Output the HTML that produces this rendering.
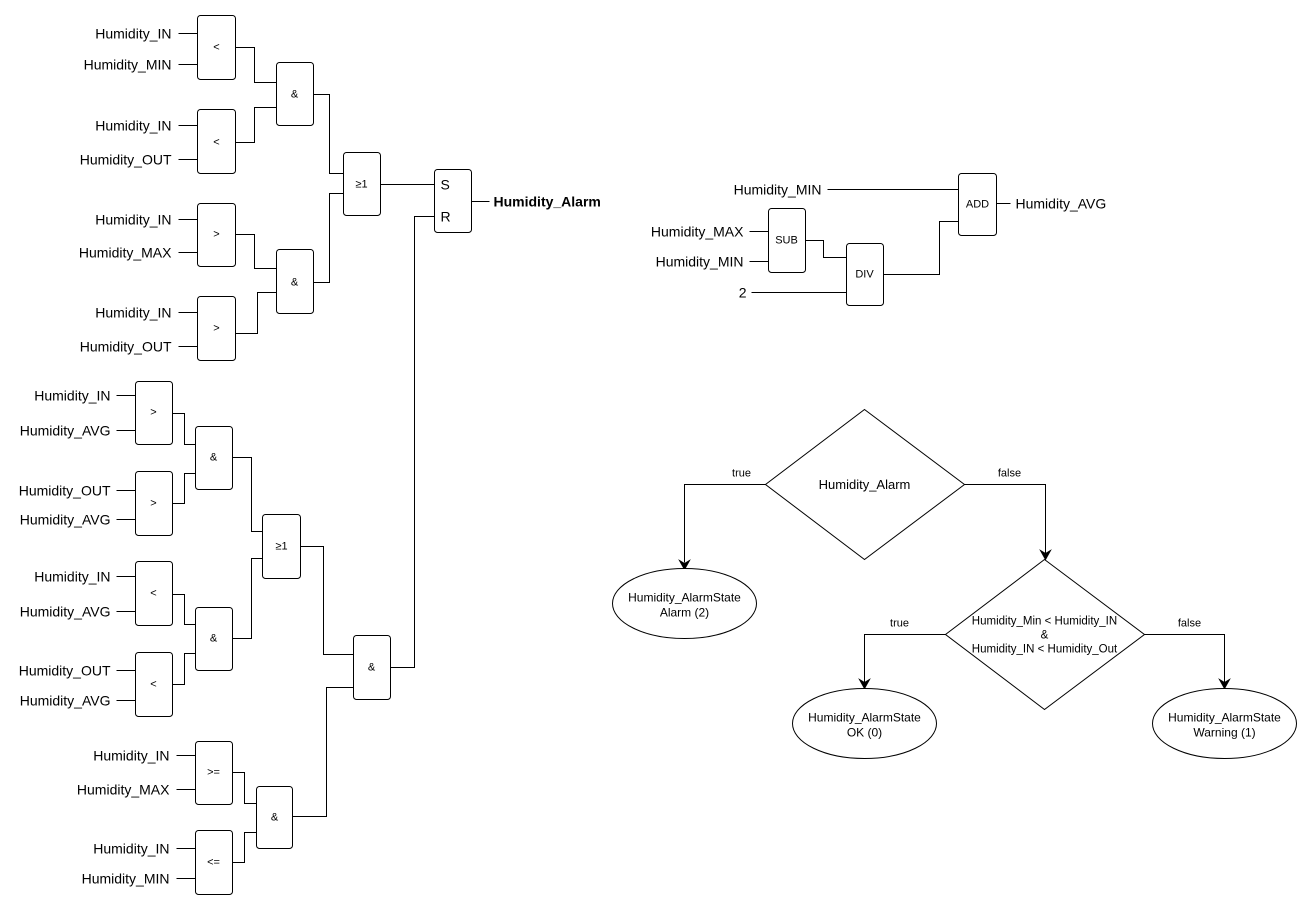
<!DOCTYPE html>
<html><head><meta charset="utf-8"><style>
html,body{margin:0;padding:0;background:#fff;}
svg{display:block;}
text{font-family:"Liberation Sans",Arial,sans-serif;fill:#000;dominant-baseline:central;}
.l{font-size:14px;text-anchor:end;}
.g{font-size:11px;text-anchor:middle;}
.c{text-anchor:middle;}
rect{fill:#fff;stroke:#000;stroke-width:1;}
path,line{fill:none;stroke:#000;stroke-width:1;}
ellipse,polygon.d{fill:#fff;stroke:#000;stroke-width:1;}
</style></head><body>
<svg width="1312" height="910" viewBox="0 0 1312 910" xmlns="http://www.w3.org/2000/svg">
<g transform="translate(0.5,0.5)">
<!-- top group inputs -->
<path d="M178,33H197M178,64H197M178,125H197M178,159H197M178,219H197M178,252H197M178,312H197M178,346H197"/>
<text class="l" x="171" y="33">Humidity_IN</text>
<text class="l" x="171" y="64">Humidity_MIN</text>
<text class="l" x="171" y="125">Humidity_IN</text>
<text class="l" x="171" y="159">Humidity_OUT</text>
<text class="l" x="171" y="219">Humidity_IN</text>
<text class="l" x="171" y="252">Humidity_MAX</text>
<text class="l" x="171" y="312">Humidity_IN</text>
<text class="l" x="171" y="346">Humidity_OUT</text>
<!-- connectors top -->
<path d="M235,47H254V82H276M235,142H254V107H276M235,234H254V268H276M235,333H257V292H276"/>
<path d="M313,94H329V173H343M313,282H329V193H343M380,184H434M471,201H489"/>
<path d="M390,667H414V216H434"/>
<rect x="197" y="15" width="38" height="64" rx="3"/><text class="g" x="216" y="47">&lt;</text>
<rect x="197" y="109" width="38" height="64" rx="3"/><text class="g" x="216" y="142">&lt;</text>
<rect x="197" y="203" width="38" height="63" rx="3"/><text class="g" x="216" y="234">&gt;</text>
<rect x="197" y="296" width="38" height="64" rx="3"/><text class="g" x="216" y="328">&gt;</text>
<rect x="276" y="62" width="37" height="63" rx="3"/><text class="g" x="294" y="94">&amp;</text>
<rect x="276" y="249" width="37" height="64" rx="3"/><text class="g" x="294" y="282">&amp;</text>
<rect x="343" y="152" width="37" height="63" rx="3"/><text class="g" x="361" y="184">≥1</text>
<rect x="434" y="169" width="37" height="63" rx="3"/>
<text x="440" y="184" style="font-size:14px">S</text>
<text x="440" y="216" style="font-size:14px">R</text>
<text x="493" y="201" style="font-size:14px;font-weight:bold">Humidity_Alarm</text>

<!-- bottom group -->
<path d="M116,395H135M116,430H135M116,490H135M116,519H135M116,576H135M116,611H135M116,670H135M116,700H135"/>
<text class="l" x="110" y="395">Humidity_IN</text>
<text class="l" x="110" y="430">Humidity_AVG</text>
<text class="l" x="110" y="490">Humidity_OUT</text>
<text class="l" x="110" y="519">Humidity_AVG</text>
<text class="l" x="110" y="576">Humidity_IN</text>
<text class="l" x="110" y="611">Humidity_AVG</text>
<text class="l" x="110" y="670">Humidity_OUT</text>
<text class="l" x="110" y="700">Humidity_AVG</text>
<path d="M176,755H195M176,789H195M176,848H195M176,878H195"/>
<text class="l" x="169" y="755">Humidity_IN</text>
<text class="l" x="169" y="789">Humidity_MAX</text>
<text class="l" x="169" y="848">Humidity_IN</text>
<text class="l" x="169" y="878">Humidity_MIN</text>
<path d="M172,413H184V444H195M172,503H184V473H195M172,594H184V624H195M172,684H184V653H195"/>
<path d="M232,457H251V531H262M232,638H251V558H262M300,546H323V654H353M292,816H326V687H353"/>
<path d="M232,772H244V803H256M232,862H244V832H256"/>
<rect x="135" y="381" width="37" height="63" rx="3"/><text class="g" x="153" y="412">&gt;</text>
<rect x="135" y="471" width="37" height="64" rx="3"/><text class="g" x="153" y="503">&gt;</text>
<rect x="135" y="561" width="37" height="64" rx="3"/><text class="g" x="153" y="593">&lt;</text>
<rect x="135" y="652" width="37" height="64" rx="3"/><text class="g" x="153" y="684">&lt;</text>
<rect x="195" y="426" width="37" height="63" rx="3"/><text class="g" x="213" y="457">&amp;</text>
<rect x="195" y="607" width="37" height="63" rx="3"/><text class="g" x="213" y="638">&amp;</text>
<rect x="262" y="514" width="38" height="64" rx="3"/><text class="g" x="281" y="546">≥1</text>
<rect x="353" y="635" width="37" height="64" rx="3"/><text class="g" x="371" y="667">&amp;</text>
<rect x="195" y="741" width="37" height="63" rx="3"/><text class="g" x="213" y="772">&gt;=</text>
<rect x="195" y="830" width="37" height="64" rx="3"/><text class="g" x="213" y="862">&lt;=</text>
<rect x="256" y="786" width="36" height="62" rx="3"/><text class="g" x="274" y="817">&amp;</text>

<!-- AVG calc -->
<path d="M827,189H958M996,203H1010M749,231H768M749,261H768M805,240H823V257H846M751,292H846M883,274H939V221H958"/>
<text class="l" x="821" y="189">Humidity_MIN</text>
<text x="1015" y="203" style="font-size:14px">Humidity_AVG</text>
<text class="l" x="743" y="231">Humidity_MAX</text>
<text class="l" x="743" y="261">Humidity_MIN</text>
<text class="l" x="746" y="292">2</text>
<rect x="958" y="173" width="38" height="62" rx="3"/><text class="g" x="977" y="204">ADD</text>
<rect x="768" y="208" width="37" height="64" rx="3"/><text class="g" x="786" y="240">SUB</text>
<rect x="846" y="243" width="37" height="62" rx="3"/><text class="g" x="864" y="274">DIV</text>

<!-- flowchart -->
<path d="M765,484H684V562M964,484H1045V553M945,634H864V682M1144,634H1224V682"/>
<polygon points="679,560 684,569 689,560 684,563" fill="#000" stroke="#000"/>
<polygon points="1040,550 1045,559 1050,550 1045,553" fill="#000" stroke="#000"/>
<polygon points="859,679 864,688 869,679 864,682" fill="#000" stroke="#000"/>
<polygon points="1219,679 1224,688 1229,679 1224,682" fill="#000" stroke="#000"/>
<polygon class="d" points="864,409 964,484 864,559 765,484"/>
<text class="c" x="864" y="484" style="font-size:13px">Humidity_Alarm</text>
<text class="c" x="741" y="473" style="font-size:11px">true</text>
<text class="c" x="1009" y="473" style="font-size:11px">false</text>
<polygon class="d" points="1044,559 1144,634 1044,709 945,634"/>
<text class="c" x="1044" y="621" style="font-size:11.5px">Humidity_Min &lt; Humidity_IN</text>
<text class="c" x="1044" y="635" style="font-size:11.5px">&amp;</text>
<text class="c" x="1044" y="649" style="font-size:11.5px">Humidity_IN &lt; Humidity_Out</text>
<text class="c" x="899" y="623" style="font-size:11px">true</text>
<text class="c" x="1189" y="623" style="font-size:11px">false</text>
<ellipse cx="684" cy="603" rx="72" ry="35"/>
<text class="c" x="684" y="597" style="font-size:12px">Humidity_AlarmState</text>
<text class="c" x="684" y="612" style="font-size:12px">Alarm (2)</text>
<ellipse cx="864" cy="723" rx="72" ry="35"/>
<text class="c" x="864" y="717" style="font-size:12px">Humidity_AlarmState</text>
<text class="c" x="864" y="732" style="font-size:12px">OK (0)</text>
<ellipse cx="1224" cy="723" rx="72" ry="35"/>
<text class="c" x="1224" y="717" style="font-size:12px">Humidity_AlarmState</text>
<text class="c" x="1224" y="732" style="font-size:12px">Warning (1)</text>
</g>
</svg>
</body></html>
